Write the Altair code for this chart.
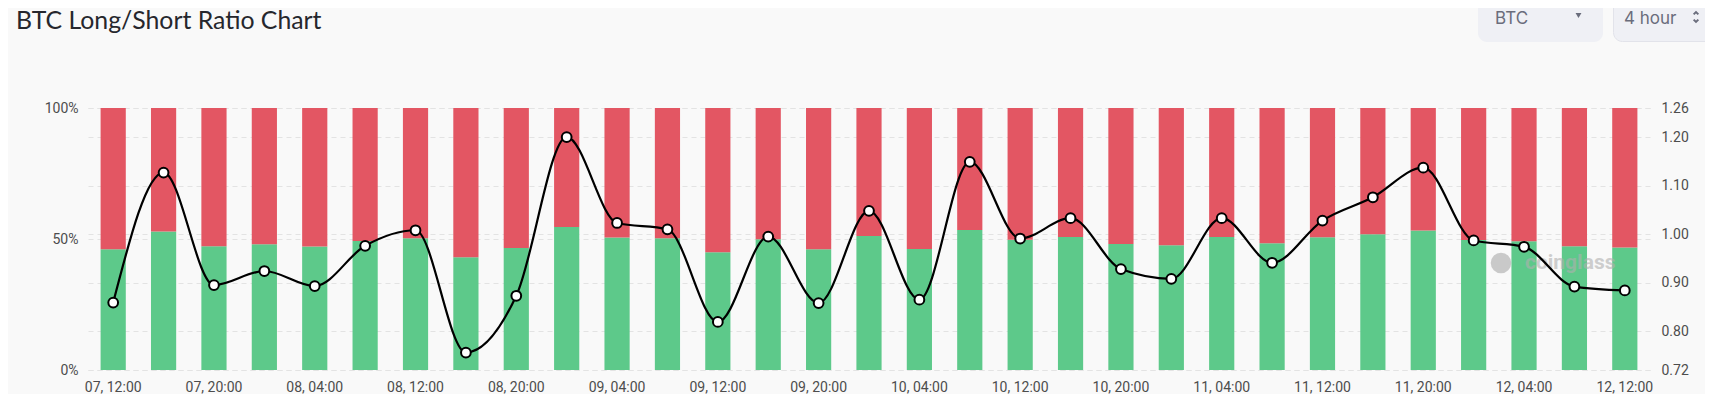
import altair as alt
import pandas as pd

# ---------------- data ----------------
times = ["07, 12:00", "07, 16:00", "07, 20:00", "08, 00:00", "08, 04:00", "08, 08:00",
         "08, 12:00", "08, 16:00", "08, 20:00", "09, 00:00", "09, 04:00", "09, 08:00",
         "09, 12:00", "09, 16:00", "09, 20:00", "10, 00:00", "10, 04:00", "10, 08:00",
         "10, 12:00", "10, 16:00", "10, 20:00", "11, 00:00", "11, 04:00", "11, 08:00",
         "11, 12:00", "11, 16:00", "11, 20:00", "12, 00:00", "12, 04:00", "12, 08:00",
         "12, 12:00"]
long_pct = [46.1, 52.9, 47.2, 48.0, 47.1, 49.2, 50.3, 43.0, 46.6, 54.6, 50.6, 50.3,
            44.9, 49.9, 46.1, 51.1, 46.2, 53.4, 49.7, 50.8, 48.1, 47.6, 50.8, 48.4,
            50.7, 51.8, 53.2, 49.6, 49.1, 47.2, 46.8]
ratio = [0.859, 1.127, 0.895, 0.924, 0.893, 0.976, 1.008, 0.756, 0.873, 1.200, 1.023,
         1.010, 0.819, 0.995, 0.858, 1.048, 0.865, 1.149, 0.991, 1.033, 0.928, 0.908,
         1.033, 0.941, 1.028, 1.076, 1.137, 0.987, 0.974, 0.892, 0.884]
tick_labels = ["07, 12:00", "07, 20:00", "08, 04:00", "08, 12:00", "08, 20:00",
               "09, 04:00", "09, 12:00", "09, 20:00", "10, 04:00", "10, 12:00",
               "10, 20:00", "11, 04:00", "11, 12:00", "11, 20:00", "12, 04:00",
               "12, 12:00"]
pct_ticks = [0, 50, 100]
ratio_ticks = [0.72, 0.80, 0.90, 1.00, 1.10, 1.20, 1.26]
title_text = "BTC Long/Short Ratio Chart"
symbol_text = "BTC"
interval_text = "4 hour"
watermark_text = "coinglass"

df = pd.DataFrame({"time": times, "long": long_pct, "ratio": ratio})
df["full"] = 100
one = pd.DataFrame({"t": [""]})

W, H = 1562, 262
GREEN, RED = "#5dc98a", "#e35663"
LABEL = "#4d4d4d"
GRID = "#e3e3e3"

x_enc = alt.X(
    "time:N", sort=times,
    scale=alt.Scale(paddingInner=0.5, paddingOuter=0.25),
    axis=alt.Axis(values=tick_labels, title=None, labelAngle=0, labelFont="Roboto",
                  labelFontSize=14, labelColor=LABEL, labelPadding=10, ticks=False,
                  domain=False, grid=False),
)

pct_scale = alt.Scale(domain=[0, 100], nice=False, zero=True)
pct_axis = alt.Axis(values=pct_ticks, labelExpr="datum.value + '%'", title=None,
                    orient="left", labelFont="Roboto", labelFontSize=14,
                    labelColor=LABEL, labelPadding=10, ticks=False, domain=False,
                    grid=True, gridColor=GRID, gridDash=[5, 4], gridWidth=1)

green = alt.Chart(df).mark_bar(color=GREEN).encode(
    x=x_enc, y=alt.Y("long:Q", scale=pct_scale, axis=pct_axis)
)
red = alt.Chart(df).mark_bar(color=RED).encode(
    x=x_enc, y=alt.Y("long:Q", scale=pct_scale, axis=pct_axis), y2="full:Q"
)
bars = alt.layer(green, red)

r_scale = alt.Scale(domain=[0.72, 1.26], nice=False, zero=False)
r_axis = alt.Axis(values=ratio_ticks, format=".2f", title=None, orient="right",
                  labelFont="Roboto", labelFontSize=14, labelColor=LABEL,
                  labelPadding=11, ticks=False, domain=False, grid=True,
                  gridColor=GRID, gridDash=[5, 4], gridWidth=1)

# watermark (logo blob + text)
wm_logo = alt.Chart(one).mark_point(shape="circle", filled=True, color="#a8a8a8",
                                     opacity=0.6, size=420).encode(
    x=alt.value(1413), y=alt.value(155))
wm_text = alt.Chart(one).mark_text(align="left", baseline="alphabetic", font="Roboto",
                                   fontSize=21, fontWeight="bold", color="#b0b0b0",
                                   opacity=0.6).encode(
    x=alt.value(1437), y=alt.value(161), text=alt.value(watermark_text))

line = alt.Chart(df).mark_line(color="black", strokeWidth=2.2, interpolate="monotone").encode(
    x=x_enc, y=alt.Y("ratio:Q", scale=r_scale, axis=r_axis)
)
pts = alt.Chart(df).mark_point(shape="circle", filled=True, fill="white", stroke="black",
                               strokeWidth=2, size=95, opacity=1).encode(
    x=x_enc, y=alt.Y("ratio:Q", scale=r_scale, axis=r_axis)
)
ratio_layer = alt.layer(wm_logo, wm_text, line, pts)

# header decorations
title = alt.Chart(one).mark_text(align="left", baseline="alphabetic", font="Lato",
                                 fontSize=24.8, color="#26272d").encode(
    x=alt.value(-72), y=alt.value(-79), text=alt.value(title_text))
box1 = alt.Chart(one).mark_rect(fill="#eff0f5", cornerRadius=9).encode(
    x=alt.value(1390), x2=alt.value(1515), y=alt.value(-130), y2=alt.value(-66))
box2 = alt.Chart(one).mark_rect(fill="#eff0f5", cornerRadius=9, stroke="#e2e3ea",
                                strokeWidth=1).encode(
    x=alt.value(1525.5), x2=alt.value(1640), y=alt.value(-130), y2=alt.value(-66.5))
t1 = alt.Chart(one).mark_text(align="left", baseline="alphabetic", font="Inter",
                              fontSize=17, color="#6a6d7c").encode(
    x=alt.value(1407), y=alt.value(-83.7), text=alt.value(symbol_text))
t2 = alt.Chart(one).mark_text(align="left", baseline="alphabetic", font="Inter",
                              fontSize=17, color="#6a6d7c").encode(
    x=alt.value(1536), y=alt.value(-83.7), text=alt.value(interval_text))
caret = alt.Chart(one).mark_point(shape="triangle-down", filled=True, color="#6a6d7c",
                                  opacity=1, size=35).encode(
    x=alt.value(1490.5), y=alt.value(-92.5))
chev_up = alt.Chart(one).mark_point(shape="M-1,0.6L0,-0.4L1,0.6", filled=False,
                                    color="#6a6d7c", strokeWidth=2, size=22,
                                    opacity=1).encode(
    x=alt.value(1608), y=alt.value(-95))
chev_dn = alt.Chart(one).mark_point(shape="M-1,-0.6L0,0.4L1,-0.6", filled=False,
                                    color="#6a6d7c", strokeWidth=2, size=22,
                                    opacity=1).encode(
    x=alt.value(1608), y=alt.value(-87))
header = alt.layer(title, box1, box2, t1, t2, caret, chev_up, chev_dn)

chart = alt.layer(bars, ratio_layer, header).resolve_scale(y="independent").properties(
    width=W, height=H,
    padding={"left": 80, "top": 100, "right": 55, "bottom": 24},
    autosize=alt.AutoSizeParams(type="none"),
    background="#f9f9f9",
).configure_view(stroke=None)

chart.save("out.html", embed_options={"renderer": "svg", "actions": False})
